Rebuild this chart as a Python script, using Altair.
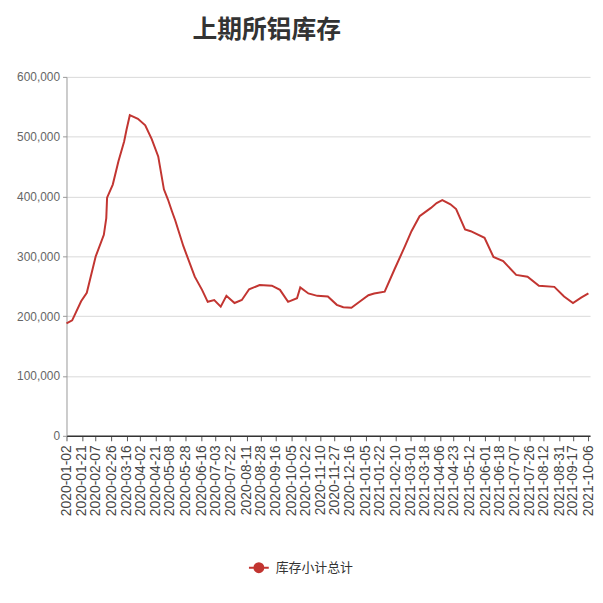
import altair as alt
import pandas as pd

TITLE = "上期所铝库存"
SERIES = "库存小计总计"
LINE_COLOR = "#c23531"

# x-axis tick labels (as shown on the reference)
LABELS = [
    "2020-01-02", "2020-01-21", "2020-02-07", "2020-02-26", "2020-03-16", "2020-04-02",
    "2020-04-21", "2020-05-08", "2020-05-28", "2020-06-16", "2020-07-03", "2020-07-22",
    "2020-08-11", "2020-08-28", "2020-09-16", "2020-10-05", "2020-10-22", "2020-11-10",
    "2020-11-27", "2020-12-16", "2021-01-05", "2021-01-22", "2021-02-10", "2021-03-01",
    "2021-03-18", "2021-04-06", "2021-04-23", "2021-05-12", "2021-06-01", "2021-06-18",
    "2021-07-07", "2021-07-26", "2021-08-12", "2021-08-31", "2021-09-17", "2021-10-06",
]

DATES = [
    "2020-01-02", "2020-01-09", "2020-01-20", "2020-01-27", "2020-02-07", "2020-02-17",
    "2020-02-20", "2020-02-21", "2020-02-28", "2020-03-06", "2020-03-13", "2020-03-16",
    "2020-03-20", "2020-03-30", "2020-04-08", "2020-04-16", "2020-04-24", "2020-05-01",
    "2020-05-06", "2020-05-11", "2020-05-15", "2020-05-25", "2020-06-08", "2020-06-17",
    "2020-06-24", "2020-07-02", "2020-07-10", "2020-07-17", "2020-07-27", "2020-08-05",
    "2020-08-14", "2020-08-27", "2020-09-11", "2020-09-21", "2020-10-01", "2020-10-12",
    "2020-10-16", "2020-10-26", "2020-11-06", "2020-11-19", "2020-11-30", "2020-12-08",
    "2020-12-18", "2020-12-28", "2021-01-08", "2021-01-15", "2021-01-28", "2021-02-09",
    "2021-02-22", "2021-03-02", "2021-03-12", "2021-03-26", "2021-04-02", "2021-04-09",
    "2021-04-19", "2021-04-26", "2021-05-07", "2021-05-14", "2021-05-31", "2021-06-11",
    "2021-06-23", "2021-07-09", "2021-07-23", "2021-08-06", "2021-08-25", "2021-09-06",
    "2021-09-17", "2021-09-27", "2021-10-06",
]

VALUES = [
    188000, 193000, 225000, 239000, 300000, 336000,
    364000, 398000, 420000, 459000, 492000, 512000,
    536000, 530000, 519000, 496000, 467000, 412000,
    395000, 375000, 360000, 317000, 266000, 244000,
    224000, 227000, 216000, 234000, 222000, 227000,
    245000, 252000, 251000, 244000, 224000, 230000,
    248000, 238000, 234000, 233000, 219000, 215000,
    214000, 224000, 235000, 238000, 241000, 278000,
    317000, 342000, 367000, 381000, 389000, 394000,
    387000, 379000, 345000, 342000, 331000, 299000,
    292000, 269000, 266000, 251000, 249000, 233000,
    222000, 231000, 238000,
]

Y_TICKS = [0, 100000, 200000, 300000, 400000, 500000, 600000]

df = pd.DataFrame({"date": DATES, "value": VALUES, "series": SERIES})


def dt(s):
    y, m, d = map(int, s.split("-"))
    return alt.DateTime(year=y, month=m, date=d, utc=True)


LEGEND_SYMBOL = "M-1,0L1,0M-0.45,0A0.45,0.45 0 1,1 0.45,0A0.45,0.45 0 1,1 -0.45,0Z"

chart = alt.Chart(df).mark_line(strokeWidth=2).encode(
    x=alt.X(
        "date:T",
        title=None,
        scale=alt.Scale(type="utc", domain=[dt("2020-01-02"), dt("2021-10-08")], nice=False),
        axis=alt.Axis(
            values=[dt(s) for s in LABELS],
            labelExpr="utcFormat(datum.value, '%Y-%m-%d')",
            labelAngle=-90,
            labelFontSize=14,
            labelFont="Liberation Sans",
            labelColor="#444444",
            labelPadding=4,
            labelOverlap=False,
            labelFlush=False,
            domainColor="#333333",
            domainWidth=1.5,
            tickColor="#555555",
            tickSize=5,
            grid=False,
        ),
    ),
    y=alt.Y(
        "value:Q",
        title=None,
        scale=alt.Scale(domain=[0, 600000], nice=False),
        axis=alt.Axis(
            values=Y_TICKS,
            labelExpr="format(datum.value, ',')",
            labelFontSize=12,
            labelFont="Liberation Sans",
            labelColor="#666666",
            labelPadding=3,
            domainColor="#999999",
            tickColor="#999999",
            tickSize=4,
            gridColor="#d9d9d9",
        ),
    ),
    color=alt.Color(
        "series:N",
        scale=alt.Scale(range=[LINE_COLOR]),
        legend=alt.Legend(
            title=None,
            orient="none",
            legendX=183,
            legendY=484,
            symbolType=LEGEND_SYMBOL,
            symbolSize=400,
            symbolStrokeWidth=2,
            symbolFillColor=LINE_COLOR,
            symbolStrokeColor=LINE_COLOR,
            labelFont="Noto Sans CJK SC",
            labelFontSize=13,
            labelColor="#333333",
            labelOffset=6,
        ),
    ),
).properties(
    width=528,
    height=362,
    title=alt.TitleParams(
        text=TITLE,
        font="Noto Sans CJK SC",
        fontSize=25,
        fontWeight="bold",
        color="#333333",
        anchor="middle",
        frame="group",
        dx=-62,
        offset=28,
    ),
    autosize=alt.AutoSizeParams(type="none"),
    padding={"left": 59, "top": 67, "right": 5, "bottom": 150},
).configure_view(stroke=None)

chart.save("out.html", embed_options={"renderer": "svg", "actions": False})
